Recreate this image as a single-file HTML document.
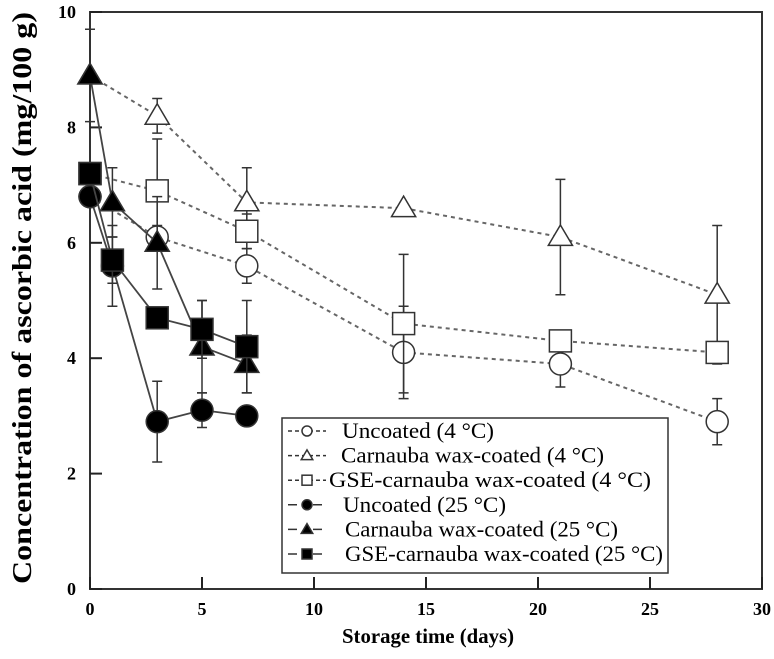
<!DOCTYPE html>
<html><head><meta charset="utf-8"><style>
body{margin:0;background:#fff;}
svg{display:block;font-family:"Liberation Serif",serif;}
</style></head><body>
<svg id="chart" width="774" height="659" viewBox="0 0 774 659" xmlns="http://www.w3.org/2000/svg">
<rect x="90" y="12" width="672" height="577" fill="none" stroke="#333" stroke-width="2"/>
<g id="ticks"></g>
<g id="series"></g>
<text x="428" y="643" text-anchor="middle" font-size="21" font-weight="bold" textLength="172" lengthAdjust="spacingAndGlyphs">Storage time (days)</text>
<text transform="translate(31,298) rotate(-90)" text-anchor="middle" font-size="27" font-weight="bold" textLength="572" lengthAdjust="spacingAndGlyphs">Concentration of  ascorbic acid (mg/100 g)</text>
<g>
<rect x="282" y="418" width="386" height="155" fill="#fff" stroke="#333" stroke-width="1.5"/>
<g id="legend"></g>
</g>
</svg>
<script>
const xTicks=[0,5,10,15,20,25,30];
const yTicks=[0,2,4,6,8,10];
const days4=[0,3,7,14,21,28];
const days25=[0,1,3,5,7];
const unc4=[6.8,6.1,5.6,4.1,3.9,2.9];
const unc4Err=[0,0.2,0.3,0.8,0.4,0.4];
const car4=[8.9,8.2,6.7,6.6,6.1,5.1];
const car4Err=[0.8,0.3,0.6,0,1.0,1.2];
const gse4=[7.2,6.9,6.2,4.6,4.3,4.1];
const gse4Err=[0,0.9,0.3,1.2,0.1,0.1];
const unc25=[6.8,5.6,2.9,3.1,3.0];
const unc25Err=[0,0.7,0.7,0.3,0];
const car25=[8.9,6.7,6.0,4.2,3.9];
const car25Err=[0,0.6,0.8,0.8,0.5];
const gse25=[7.2,5.7,4.7,4.5,4.2];
const gse25Err=[0,0.4,0,0.5,0.8];
const legendLabels=["Uncoated (4 °C)","Carnauba wax-coated (4 °C)","GSE-carnauba wax-coated (4 °C)","Uncoated (25 °C)","Carnauba wax-coated (25 °C)","GSE-carnauba wax-coated (25 °C)"];

const NS="http://www.w3.org/2000/svg";
const X0=90,X1=762,Y0=589,Y1=12;
const sx=v=>X0+(v-0)/(30-0)*(X1-X0);
const sy=v=>Y0-(v-0)/(10-0)*(Y0-Y1);
function mk(tag,attrs,parent){const e=document.createElementNS(NS,tag);for(const k in attrs)e.setAttribute(k,attrs[k]);parent.appendChild(e);return e;}
const tk=document.getElementById('ticks');
xTicks.forEach(t=>{
 const l=mk('line',{x1:sx(t),x2:sx(t),y1:Y0,y2:Y0-12,stroke:'#222','stroke-width':2},tk);
 
 
 const tx=mk('text',{x:sx(t),y:615,'text-anchor':'middle','font-size':18,'font-weight':'bold'},tk);
 tx.textContent=t;
 
 
});
yTicks.forEach(t=>{
 const l=mk('line',{x1:X0,x2:X0+12,y1:sy(t),y2:sy(t),stroke:'#222','stroke-width':2},tk);
 
 
 const tx=mk('text',{x:76,y:sy(t)+6,'text-anchor':'end','font-size':18,'font-weight':'bold'},tk);
 tx.textContent=t;
 
 
});
const sg=document.getElementById('series');
function marker(shape,filled,cx,cy,parent,s){
 const f=filled?'#000':'#fff';let e;
 if(shape==='c')e=mk('circle',{cx:cx,cy:cy,r:s,fill:f,stroke:'#333','stroke-width':1.5},parent);
 else if(shape==='s')e=mk('rect',{x:cx-s,y:cy-s,width:2*s,height:2*s,fill:f,stroke:'#333','stroke-width':1.5},parent);
 else e=mk('polygon',{points:`${cx},${cy-s*1.15} ${cx+s*1.15},${cy+s*0.8} ${cx-s*1.15},${cy+s*0.8}`,fill:f,stroke:'#333','stroke-width':1.5},parent);
 return e;
}
function series(name,days,vals,errs,shape,filled){
 const g=mk('g',{},sg);
 
 
 days.forEach((d,i)=>{if(errs[i]>0){
  const x=sx(d),a=sy(vals[i]+errs[i]),b=sy(vals[i]-errs[i]);
  const e=mk('path',{d:`M${x},${a}V${b}M${x-5},${a}H${x+5}M${x-5},${b}H${x+5}`,stroke:'#333','stroke-width':1.5,fill:'none'},g);
  
  
 }});
 const pl=mk('polyline',{points:days.map((d,i)=>sx(d)+','+sy(vals[i])).join(' '),fill:'none',stroke:filled?'#444':'#666','stroke-width':filled?1.8:2,'stroke-dasharray':filled?'none':'4,4'},g);
 
 
 days.forEach((d,i)=>{
  const m=marker(shape,filled,sx(d),sy(vals[i]),g,shape==='t'?10.5:11);
  
  
 });
}
series('uncoated-4c',days4,unc4,unc4Err,'c',false);
series('carnauba-4c',days4,car4,car4Err,'t',false);
series('gse-carnauba-4c',days4,gse4,gse4Err,'s',false);
series('uncoated-25c',days25,unc25,unc25Err,'c',true);
series('carnauba-25c',days25,car25,car25Err,'t',true);
series('gse-carnauba-25c',days25,gse25,gse25Err,'s',true);
const lg=document.getElementById('legend');
const shapes=['c','t','s','c','t','s'];
const textX=[342,341,329,343,345,345];
const textW=[152,263,322,163,273,318];
legendLabels.forEach((lab,i)=>{
 const y=431+i*24.6;const filled=i>=3;
 const g=mk('g',{},lg);
 
 
 mk('line',{x1:288,x2:326,y1:y,y2:y,stroke:'#333','stroke-width':1.5,'stroke-dasharray':filled?'9,16':'4,3'},g);
 marker(shapes[i],filled,307,y,g,5);
 const t=mk('text',{x:textX[i],y:y+7,'font-size':22,textLength:textW[i],lengthAdjust:'spacingAndGlyphs'},g);
 t.textContent=lab;
});
</script>
</body></html>
